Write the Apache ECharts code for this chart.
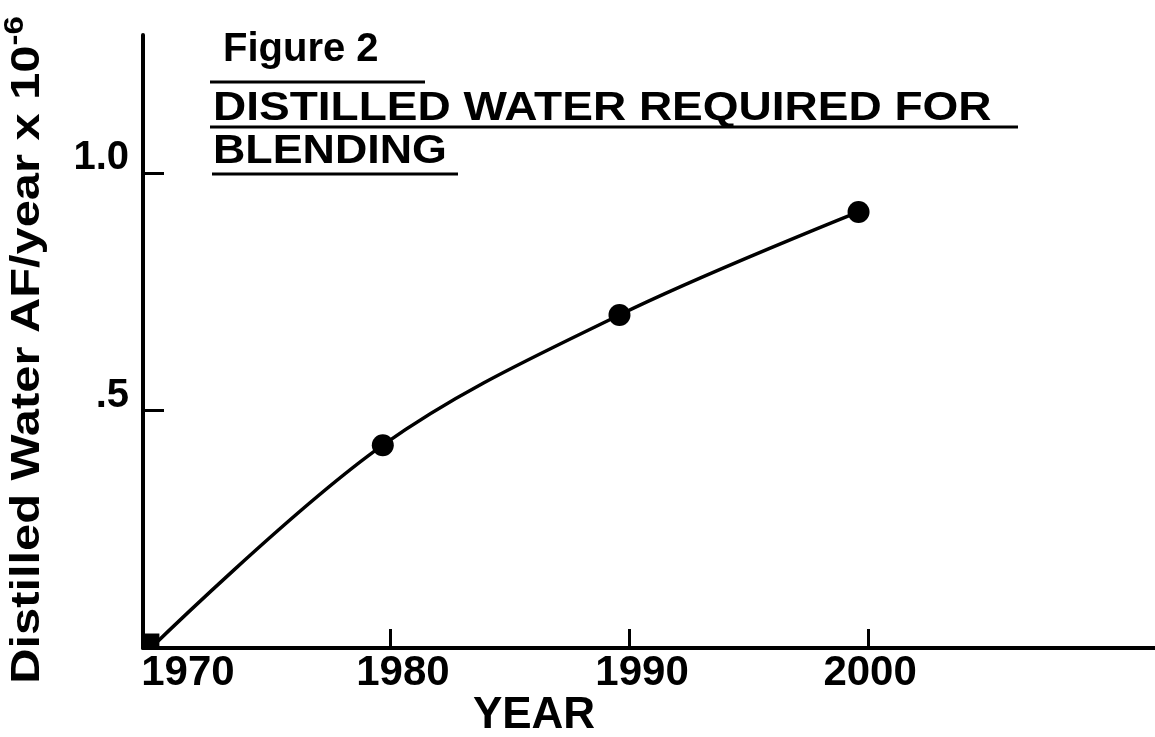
<!DOCTYPE html>
<html>
<head>
<meta charset="utf-8">
<script src="https://cdn.jsdelivr.net/npm/echarts@6/dist/echarts.min.js"></script>
<style>
    html,body{margin:0;padding:0;background:#fff;}
    #chart{width:1155px;height:737px;}
</style>
</head>
<body>
<div id="chart"></div>
<script>
    // data
    var years=[1970,1979.7,1989.6,1999.6];
    var water=[0,0.427,0.701,0.918];
    var xTicks=[1980,1990,2000];
    var xLabels=[1970,1980,1990,2000];
    var yTicks=[0.5,1.0];
    var yTickText={"0.5":".5","1":"1.0"};
    var titleLines=["Figure 2","DISTILLED WATER REQUIRED FOR","BLENDING"];

    var ink='#000';
    var lblFont="'Liberation Sans', 'DejaVu Sans', sans-serif";

    var pts=[];
    for(var i=0;i<years.length;i++){
        if(i==0){
            pts.push({value:[years[i],water[i]],symbol:'rect',symbolSize:[17,15],symbolOffset:[0,-7]});
        }else{
            pts.push({value:[years[i],water[i]],symbol:'circle',symbolSize:22});
        }
    }

    // label shift (the hand lettering sits right of the ticks)
    var xRich={
        a:{padding:[0,0,0,74],fontSize:42,fontWeight:'bold',fontFamily:lblFont,color:ink},
        b:{padding:[0,0,0,26],fontSize:42,fontWeight:'bold',fontFamily:lblFont,color:ink},
        c:{padding:[0,0,0,4],fontSize:42,fontWeight:'bold',fontFamily:lblFont,color:ink}
    };

    var chart=echarts.init(document.getElementById('chart'));
    var option={
        backgroundColor:'#fff',
        animation:false,
        grid:{left:143,right:0,top:35,bottom:89,outerBoundsMode:'none'},
        xAxis:{
            type:'value',
            min:1969.67,
            max:2012,
            axisLine:{lineStyle:{color:ink,width:4}},
            axisTick:{inside:true,length:19,customValues:xTicks,lineStyle:{color:ink,width:3}},
            axisLabel:{
                customValues:xLabels,
                margin:4,
                rich:xRich,
                formatter:function(v){
                    if(v==1970) return '{a|'+v+'}';
                    if(v==2000) return '{c|'+v+'}';
                    return '{b|'+v+'}';
                }
            },
            splitLine:{show:false}
        },
        yAxis:{
            type:'value',
            min:0,
            max:1.2905,
            axisLine:{show:true,lineStyle:{color:ink,width:4}},
            axisTick:{show:true,inside:true,length:21,customValues:yTicks,lineStyle:{color:ink,width:3}},
            axisLabel:{
                customValues:yTicks,
                margin:14,
                fontSize:40,
                fontWeight:'bold',
                fontFamily:lblFont,
                color:ink,
                lineHeight:30,
                verticalAlign:'bottom',
                formatter:function(v){return yTickText[String(v)];}
            },
            splitLine:{show:false}
        },
        graphic:[
            {type:'text',left:223,top:30,style:{text:titleLines[0],fontSize:40,fontWeight:'bold',fontFamily:lblFont,fill:ink}},
            {type:'line',shape:{x1:210,y1:82,x2:425,y2:82},style:{stroke:ink,lineWidth:3}},
            {type:'text',x:213,y:89,scaleX:1.15,style:{text:titleLines[1],fontSize:40,fontWeight:'bold',fontFamily:lblFont,fill:ink}},
            {type:'line',shape:{x1:210,y1:127,x2:1018,y2:127},style:{stroke:ink,lineWidth:3}},
            {type:'text',x:213,y:132,scaleX:1.12,style:{text:titleLines[2],fontSize:40,fontWeight:'bold',fontFamily:lblFont,fill:ink}},
            {type:'line',shape:{x1:212,y1:174,x2:458,y2:174},style:{stroke:ink,lineWidth:3}},
            {type:'text',x:534,y:716,style:{text:'YEAR',fontSize:44,fontWeight:'bold',fontFamily:lblFont,fill:ink,align:'center',verticalAlign:'middle'}},
            {
                type:'text',x:25,y:350,rotation:Math.PI/2,scaleX:1.22,
                style:{
                    text:'{m|Distilled Water AF/year x 10}{s|-6}',
                    align:'center',verticalAlign:'middle',
                    rich:{
                        m:{fontSize:40,fontWeight:'bold',fontFamily:lblFont,fill:ink,lineHeight:46,verticalAlign:'bottom'},
                        s:{fontSize:27,fontWeight:'bold',fontFamily:lblFont,fill:ink,lineHeight:46,verticalAlign:'top'}
                    }
                }
            }
        ],
        series:[{
            type:'line',
            data:pts,
            smooth:0.35,
            itemStyle:{color:ink},
            lineStyle:{color:ink,width:3.5},
            z:5
        }]
    };
    chart.setOption(option);
</script>
</body>
</html>
